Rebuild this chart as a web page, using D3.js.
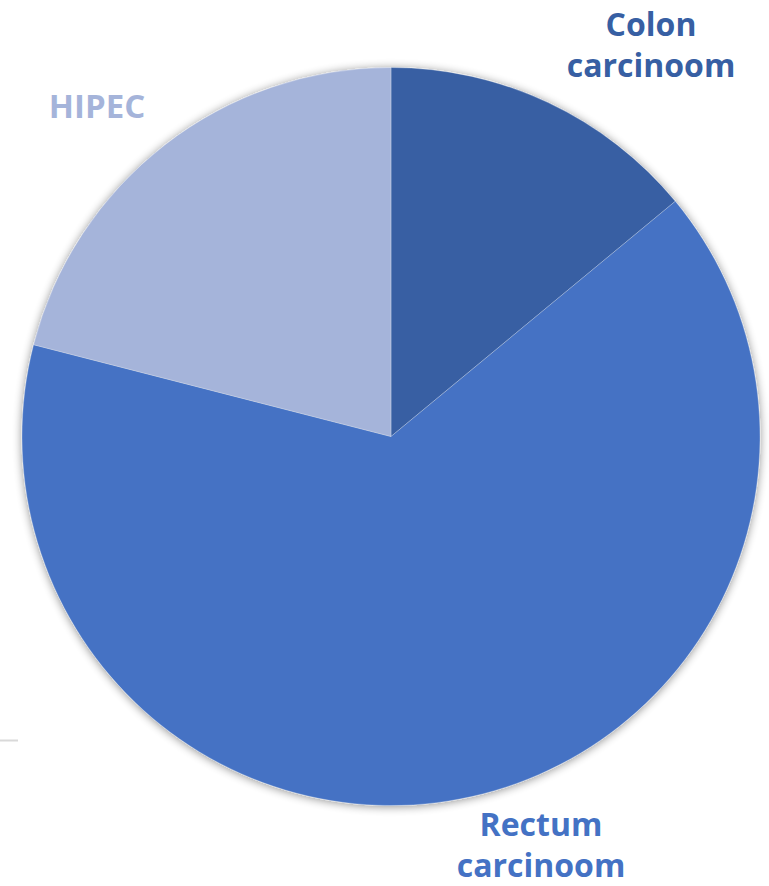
<!DOCTYPE html>
<html>
<head>
<meta charset="utf-8">
<script src="https://cdn.jsdelivr.net/npm/d3@7"></script>
<style>
  html, body { margin: 0; padding: 0; background: #ffffff; }
  svg { display: block; }
  .lbl { font-family: "Open Sans", sans-serif; font-weight: 700; }
</style>
</head>
<body>
<svg id="chart" width="769" height="886"></svg>
<script>
// Share of procedures per category (percent)
const categories = ["Colon carcinoom", "Rectum carcinoom", "HIPEC"];
const values = [14, 65, 21];
const colors = ["#375FA3", "#4472C4", "#A5B4DA"];
// Label lines and anchor points for each category
const labelLines = [["Colon", "carcinoom"], ["Rectum", "carcinoom"], ["HIPEC"]];
const labelPos = [[651, 36], [541, 836], [97, 118]];
const labelSize = [32, 32, 33];

const width = 769, height = 886;
const cx = 391, cy = 436.5, radius = 369;

const svg = d3.select("#chart");

const defs = svg.append("defs");
const shadow = defs.append("filter")
  .attr("id", "pieShadow")
  .attr("x", "-10%").attr("y", "-10%")
  .attr("width", "120%").attr("height", "120%");
shadow.append("feGaussianBlur").attr("in", "SourceAlpha").attr("stdDeviation", 5).attr("result", "blur");
shadow.append("feOffset").attr("in", "blur").attr("dx", 0).attr("dy", 1).attr("result", "off");
shadow.append("feComponentTransfer").attr("in", "off").attr("result", "soft")
  .append("feFuncA").attr("type", "linear").attr("slope", 0.45);
const merge = shadow.append("feMerge");
merge.append("feMergeNode").attr("in", "soft");
merge.append("feMergeNode").attr("in", "SourceGraphic");

const pie = d3.pie().sort(null).value(d => d);
const arc = d3.arc().innerRadius(0).outerRadius(radius);

const g = svg.append("g")
  .attr("transform", `translate(${cx},${cy})`)
  .attr("filter", "url(#pieShadow)");

g.selectAll("path")
  .data(pie(values))
  .join("path")
  .attr("d", arc)
  .attr("fill", (d, i) => colors[i])
  .attr("stroke", "rgba(255,255,255,0.35)")
  .attr("stroke-width", 0.75);

// Category labels
const lineHeight = 41;
categories.forEach((c, i) => {
  const t = svg.append("text")
    .attr("class", "lbl")
    .attr("x", labelPos[i][0])
    .attr("y", labelPos[i][1])
    .attr("text-anchor", "middle")
    .attr("fill", colors[i])
    .attr("font-size", labelSize[i]);
  labelLines[i].forEach((ln, j) => {
    t.append("tspan")
      .attr("x", labelPos[i][0])
      .attr("y", labelPos[i][1] + j * lineHeight)
      .text(ln);
  });
});

// Short leader stub at the left margin
svg.append("line")
  .attr("x1", 0).attr("x2", 18)
  .attr("y1", 740.5).attr("y2", 740.5)
  .attr("stroke", "#D9D9D9")
  .attr("stroke-width", 2);
</script>
</body>
</html>
